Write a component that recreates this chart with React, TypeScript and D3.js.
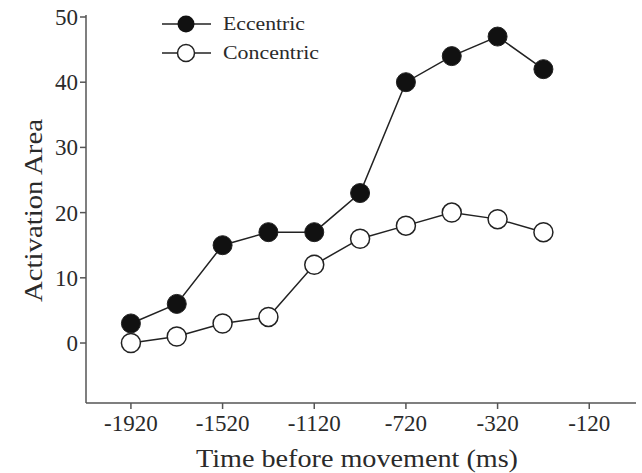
import React from "react";
import * as d3 from "d3";

// Sample positions along the time axis (ms before movement)
const timePoints = [-1920, -1720, -1520, -1320, -1120, -920, -720, -520, -320, -120];
const eccentric = [3, 6, 15, 17, 17, 23, 40, 44, 47, 42];
const concentric = [0, 1, 3, 4, 12, 16, 18, 20, 19, 17];
// Tick labels placed every second sample slot
const xTickSlots = [0, 2, 4, 6, 8, 10];
const xTickLabels = ["-1920", "-1520", "-1120", "-720", "-320", "-120"];
const yTicks = [0, 10, 20, 30, 40, 50];

const W = 642;
const H = 473;
const FONT = "'Liberation Serif', 'Times New Roman', serif";

export default function App() {
  const left = 86;
  const right = 636;
  const top = 17;
  const bottom = 403;

  const x = d3.scaleLinear().domain([-0.98, 11.02]).range([left, right]);
  const y = d3.scaleLinear().domain([-9.2, 50]).range([bottom, top]);

  const line = d3
    .line<number>()
    .x((_, i) => x(i))
    .y((d) => y(d));

  const ink = "#222";
  const axisInk = "#555";
  const textInk = "#2a2a2a";

  return (
    <svg width={W} height={H} style={{ position: "absolute", left: 0, top: 0, background: "#fff" }}>
      {/* axes */}
      <line x1={left} x2={left} y1={top - 2} y2={bottom} stroke={axisInk} strokeWidth={1.5} />
      <line x1={left} x2={right} y1={bottom} y2={bottom} stroke={axisInk} strokeWidth={1.5} />
      {yTicks.map((t) => (
        <g key={"y" + t}>
          <line x1={left - 6} x2={left} y1={y(t)} y2={y(t)} stroke={axisInk} strokeWidth={1.5} />
          <text
            x={left - 8}
            y={y(t)}
            dy="0.35em"
            textAnchor="end"
            fontFamily={FONT}
            fontSize={23}
            fill={textInk}
          >
            {t}
          </text>
        </g>
      ))}
      {xTickSlots.map((s, i) => (
        <g key={"x" + s}>
          <line x1={x(s)} x2={x(s)} y1={bottom} y2={bottom + 6} stroke={axisInk} strokeWidth={1.5} />
          <text
            x={x(s)}
            y={bottom + 28}
            textAnchor="middle"
            fontFamily={FONT}
            fontSize={23}
            fill={textInk}
          >
            {xTickLabels[i]}
          </text>
        </g>
      ))}
      <text
        x={196}
        y={467}
        textLength={322}
        lengthAdjust="spacingAndGlyphs"
        fontFamily={FONT}
        fontSize={25}
        fill={textInk}
      >
        Time before movement (ms)
      </text>
      <text
        transform={`translate(42, 302) rotate(-90)`}
        textLength={183}
        lengthAdjust="spacingAndGlyphs"
        fontFamily={FONT}
        fontSize={25}
        fill={textInk}
      >
        Activation Area
      </text>

      {/* series */}
      <path d={line(eccentric) || ""} fill="none" stroke={ink} strokeWidth={1.5} />
      <path d={line(concentric) || ""} fill="none" stroke={ink} strokeWidth={1.5} />
      {eccentric.map((v, i) => (
        <circle key={"e" + timePoints[i]} cx={x(i)} cy={y(v)} r={9.5} fill="#111" stroke={ink} strokeWidth={1} />
      ))}
      {concentric.map((v, i) => (
        <circle key={"c" + timePoints[i]} cx={x(i)} cy={y(v)} r={9.5} fill="#fff" stroke={ink} strokeWidth={1.5} />
      ))}

      {/* legend */}
      <g>
        <line x1={162} x2={211} y1={24} y2={24} stroke={ink} strokeWidth={1.5} />
        <circle cx={186} cy={24} r={8.5} fill="#111" />
        <text x={223} y={30} textLength={82} lengthAdjust="spacingAndGlyphs" fontFamily={FONT} fontSize={19} fill={textInk}>
          Eccentric
        </text>
        <line x1={162} x2={211} y1={53} y2={53} stroke={ink} strokeWidth={1.5} />
        <circle cx={186} cy={53} r={8.5} fill="#fff" stroke={ink} strokeWidth={1.5} />
        <text x={223} y={59} textLength={96} lengthAdjust="spacingAndGlyphs" fontFamily={FONT} fontSize={19} fill={textInk}>
          Concentric
        </text>
      </g>
    </svg>
  );
}
